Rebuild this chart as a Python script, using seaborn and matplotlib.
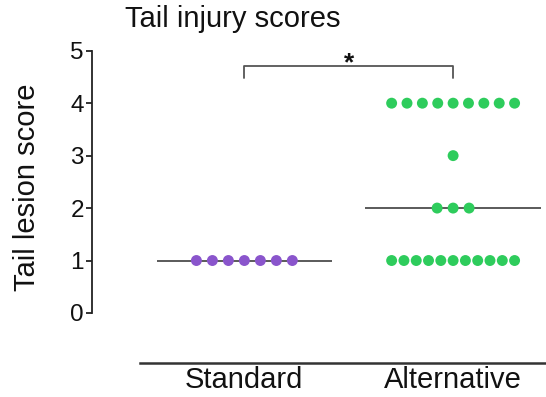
import numpy as np
import pandas as pd
import matplotlib
matplotlib.use("Agg")
import matplotlib.pyplot as plt
import seaborn as sns

# Tail lesion scores per housing group
groups = ["Standard", "Alternative"]
standard_scores = [1, 1, 1, 1, 1, 1, 1]
alternative_scores = [4, 4, 4, 4, 4, 4, 4, 4, 4,
                      3,
                      2, 2, 2,
                      1, 1, 1, 1, 1, 1, 1, 1, 1, 1, 1]
y_ticks = [0, 1, 2, 3, 4, 5]
group_colors = ["#8A55CC", "#2ECC5C"]
significance_label = "*"


def spread_offsets(values, step=0.0766, max_span=0.589):
    """Spread tied values side by side, centred on the category."""
    values = np.asarray(values)
    offsets = np.zeros(len(values))
    for v in np.unique(values):
        idx = np.where(values == v)[0]
        n = len(idx)
        if n > 1:
            gap = min(step, max_span / (n - 1))
            offsets[idx] = (np.arange(n) - (n - 1) / 2) * gap
    return offsets


frames = []
for i, (g, vals) in enumerate(zip(groups, [standard_scores, alternative_scores])):
    frames.append(pd.DataFrame({
        "group": g,
        "score": vals,
        "x": i + spread_offsets(vals),
    }))
df = pd.concat(frames, ignore_index=True)

sns.set_style("ticks")
plt.rcParams["font.family"] = ["Liberation Sans", "DejaVu Sans"]

W, H = 546, 397
fig = plt.figure(figsize=(W / 100, H / 100), dpi=100)
ax = fig.add_axes([140 / W, 1 - 363 / H, (W - 140) / W, (363 - 35) / H])

# median lines under the points
for i, vals in enumerate([standard_scores, alternative_scores]):
    ax.hlines(np.median(vals), i - 0.42, i + 0.42, color="#5a5a5a",
              lw=1.4, zorder=2)

sns.scatterplot(data=df, x="x", y="score", hue="group", palette=group_colors,
                hue_order=groups, s=62, edgecolor="none", legend=False,
                ax=ax, zorder=3)

ax.set_xlim(-0.5, 1.445)
ax.set_ylim(-0.954, 5.3)
ax.set_xticks([0, 1], groups)
ax.set_yticks(y_ticks)
ax.set_xlabel("")
ax.set_ylabel("")
ax.tick_params(axis="x", length=0, labelsize=21, pad=2, colors="#111111")
ax.tick_params(axis="y", length=4.3, width=1.3, labelsize=17.5, pad=1.5,
               colors="#222222", labelcolor="#111111")

for side in ["top", "right"]:
    ax.spines[side].set_visible(False)
ax.spines["left"].set_position(("outward", 34.6))
ax.spines["left"].set_bounds(0, 5)
ax.spines["left"].set_linewidth(1.3)
ax.spines["left"].set_color("#222222")
ax.spines["bottom"].set_linewidth(1.8)
ax.spines["bottom"].set_color("#333333")

# significance bracket
y_br, y_leg = 4.70, 4.48
ax.plot([0, 0, 1, 1], [y_leg, y_br, y_br, y_leg], color="#555555", lw=1.3,
        clip_on=False)
ax.text(0.5, 4.63, significance_label, ha="center", va="baseline",
        fontsize=19, fontweight="bold", color="#111111")

fig.text(125 / W, 1 - 27 / H, "Tail injury scores", ha="left", va="baseline",
         fontsize=21, color="#111111")
fig.text(27 / W, 1 - 187 / H, "Tail lesion score", ha="center", va="center",
         rotation=90, fontsize=21, color="#111111")

fig.savefig("out.png", dpi=100)
